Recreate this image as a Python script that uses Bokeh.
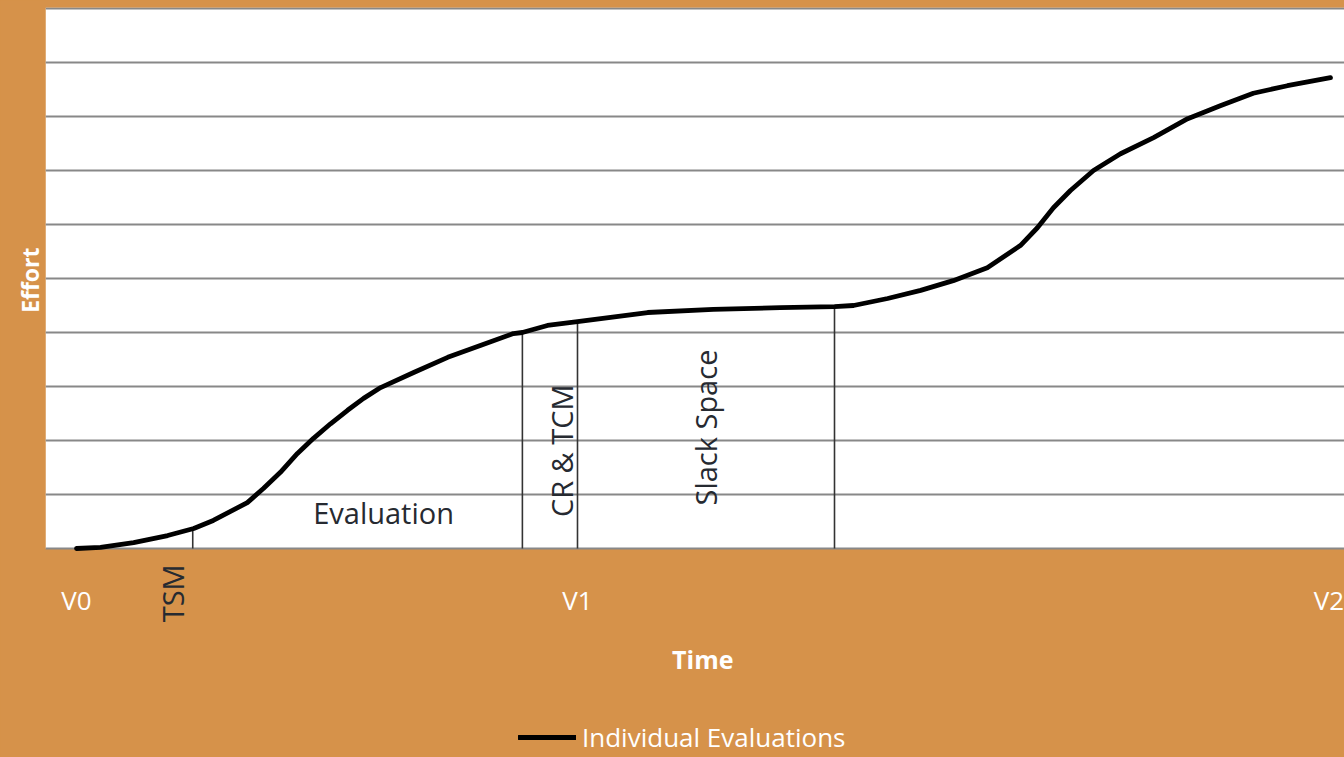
from math import pi
from bokeh.plotting import figure
from bokeh.models import (ColumnDataSource, FixedTicker, Range1d, Legend,
                          LegendItem, LabelSet, Label, BoxAnnotation, Title)
from bokeh.embed import file_html
from bokeh.resources import INLINE
from bokeh.core.properties import value

# ---------------- data ----------------
time = [0.0, 0.48, 1.14, 1.82, 2.34, 2.73, 3.41, 3.73, 4.07, 4.41, 4.73,
        5.07, 5.41, 5.73, 6.07, 6.73, 7.41, 8.06, 8.72, 8.90, 9.40, 10.0,
        11.40, 12.71, 14.05, 15.13, 15.51, 16.19, 16.85, 17.50, 18.18,
        18.84, 19.18, 19.50, 19.84, 20.30, 20.84, 21.50, 22.18, 22.83,
        23.49, 24.17, 25.03]
effort = [0.0, 0.02, 0.11, 0.24, 0.37, 0.52, 0.85, 1.11, 1.41, 1.76, 2.04,
          2.31, 2.56, 2.78, 2.98, 3.26, 3.54, 3.76, 3.98, 4.00, 4.13, 4.20,
          4.37, 4.43, 4.46, 4.48, 4.50, 4.63, 4.78, 4.96, 5.20,
          5.61, 5.94, 6.31, 6.63, 7.00, 7.31, 7.61, 7.96, 8.20,
          8.43, 8.57, 8.72]

milestone_time = [2.32, 8.90, 10.0, 15.13]
milestone_effort = [0.37, 4.00, 4.20, 4.48]

phase_labels = ["Evaluation", "CR & TCM", "Slack Space"]
phase_x = [6.13, 9.68, 12.55]
phase_y = [0.67, 1.81, 2.24]
phase_rotated = [False, True, True]

marker_labels = ["TSM"]
marker_x = [1.92]

version_ticks = [0, 10, 25]
version_labels = ["V0", "V1", "V2"]
effort_grid = list(range(0, 11))

x_title = "Time"
y_title = "Effort"
series_name = "Individual Evaluations"

# ---------------- styling / layout ----------------
ORANGE = "#D6924A"
FONT = "Open Sans"
DARK = "#262a31"
PX_PER_UNIT_Y = 54.0           # gridline spacing in pixels
TOP_BORDER = 7
FRAME_H = 757 - TOP_BORDER
Y_TOP = 10 + 1 / PX_PER_UNIT_Y
Y_BOTTOM = Y_TOP - FRAME_H / PX_PER_UNIT_Y
TICK_ROW = -0.96               # row of the version labels below the chart
TITLE_ROW = -2.04              # row of the x title
MARKER_ROW = -0.83             # row of the rotated milestone label

p = figure(width=1344, height=757,
           x_range=Range1d(-0.619, 25.31), y_range=Range1d(Y_BOTTOM, Y_TOP),
           x_axis_location=None,
           output_backend="svg", toolbar_location=None,
           min_border_left=45, min_border_right=0,
           min_border_top=TOP_BORDER, min_border_bottom=0,
           background_fill_color=ORANGE, border_fill_color=ORANGE,
           outline_line_color=None)

# white plotting area (effort >= 0); the band below stays orange
p.add_layout(BoxAnnotation(bottom=0, fill_color="white", fill_alpha=1,
                           line_color=None, level="image"))

p.xgrid.visible = False
p.ygrid.ticker = FixedTicker(ticks=effort_grid)
p.ygrid.grid_line_color = "#888888"
p.ygrid.grid_line_width = 2

ya = p.yaxis[0]
ya.ticker = FixedTicker(ticks=[])
ya.axis_line_color = None
ya.major_tick_line_color = None
ya.minor_tick_line_color = None
ya.major_tick_out = 0
ya.major_label_standoff = 0

p.add_layout(Title(text=y_title, align="right", offset=240,
                   text_color="white", text_font=FONT,
                   text_font_style="bold", text_font_size="23px",
                   standoff=0), "left")

p.segment(x0=milestone_time, y0=[0] * len(milestone_time),
          x1=milestone_time, y1=milestone_effort,
          line_color="#333333", line_width=1.6)

r = p.line(time, effort, line_color="black", line_width=4.8,
           line_cap="round", line_join="round")

# region labels
src = ColumnDataSource(dict(
    x=phase_x, y=phase_y, text=phase_labels,
    angle=[pi / 2 if rot else 0 for rot in phase_rotated]))
p.add_layout(LabelSet(x="x", y="y", text="text", angle="angle", source=src,
                      text_align="center", text_baseline="middle",
                      text_font=value(FONT), text_font_size=value("29px"),
                      text_color=DARK))

# milestone label under the axis
msrc = ColumnDataSource(dict(x=marker_x, y=[MARKER_ROW] * len(marker_x),
                             text=marker_labels))
p.add_layout(LabelSet(x="x", y="y", text="text", angle=pi / 2, source=msrc,
                      text_align="center", text_baseline="middle",
                      text_font=value(FONT), text_font_size=value("29px"),
                      text_color=DARK))

# version tick labels
vsrc = ColumnDataSource(dict(x=version_ticks,
                             y=[TICK_ROW] * len(version_ticks),
                             text=version_labels))
p.add_layout(LabelSet(x="x", y="y", text="text", source=vsrc,
                      text_align="center", text_baseline="middle",
                      text_font=value(FONT), text_font_size=value("26px"),
                      text_color="white"))

# x title
p.add_layout(Label(x=(version_ticks[0] + version_ticks[-1]) / 2, y=TITLE_ROW,
                   text=x_title, text_align="center",
                   text_baseline="middle",
                   text_font=FONT, text_font_style="bold",
                   text_font_size="25px", text_color="white"))

legend = Legend(items=[LegendItem(label=series_name, renderers=[r])],
                location=(473, 2), orientation="horizontal",
                background_fill_alpha=0, border_line_color=None,
                label_text_color="white", label_text_font=FONT,
                label_text_font_size="26px", glyph_width=58,
                glyph_height=20, label_standoff=6, padding=0, margin=0)
p.add_layout(legend)

html = file_html(p, INLINE, title="Effort over time")
html = html.replace("</head>",
                    "<style>body{background:%s;}</style></head>" % ORANGE, 1)
open("out.html", "w").write(html)
